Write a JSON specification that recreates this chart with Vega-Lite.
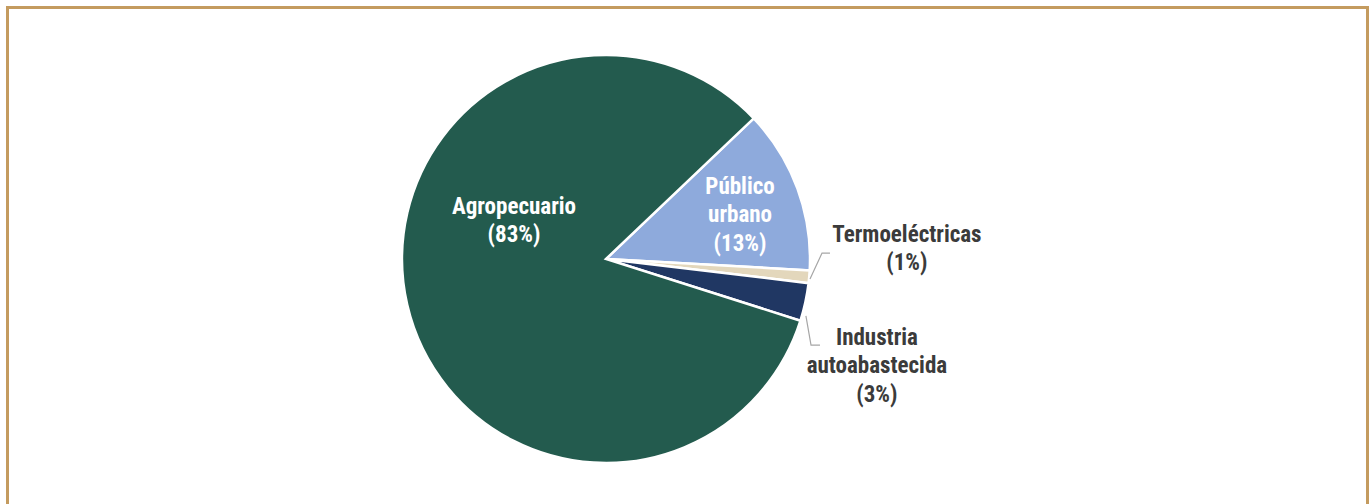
{
  "$schema": "https://vega.github.io/schema/vega-lite/v6.json",
  "width": 1370,
  "height": 504,
  "autosize": {"type": "fit", "contains": "padding"},
  "padding": {"left": 7.5, "top": 7.5, "right": 2.5, "bottom": -4},
  "background": "white",
  "config": {
    "view": {"stroke": "#c49b5f", "strokeWidth": 3},
    "font": "Liberation Sans Narrow"
  },
  "datasets": {
    "slices": [
      {"sector": "Público urbano", "value": 13, "ord": 1},
      {"sector": "Termoeléctricas", "value": 1, "ord": 2},
      {"sector": "Industria autoabastecida", "value": 3, "ord": 3},
      {"sector": "Agropecuario", "value": 83, "ord": 4}
    ],
    "labels": [
      {"label": "Agropecuario\n(83%)", "px": -45.1, "py": 25.5, "side": "in"},
      {"label": "Público\nurbano\n(13%)", "px": 65.7, "py": 35.3, "side": "in"},
      {"label": "Termoeléctricas\n(1%)", "px": 147.5, "py": 11.8, "side": "out"},
      {"label": "Industria\nautoabastecida\n(3%)", "px": 132.8, "py": -38.7, "side": "out"}
    ],
    "leaders": [
      {"grp": "t", "k": 1, "px": 100.0, "py": -9.8},
      {"grp": "t", "k": 2, "px": 105.9, "py": 2.9},
      {"grp": "t", "k": 3, "px": 109.8, "py": 2.9},
      {"grp": "i", "k": 1, "px": 98.0, "py": -27.9},
      {"grp": "i", "k": 2, "px": 100.5, "py": -42.2},
      {"grp": "i", "k": 3, "px": 104.9, "py": -42.2}
    ]
  },
  "layer": [
    {
      "data": {"name": "slices"},
      "mark": {"type": "arc", "radius": 204, "stroke": "white", "strokeWidth": 2.5},
      "encoding": {
        "x": {"datum": 0, "type": "quantitative", "scale": {"domain": [-293.4, 373.3], "nice": false, "zero": false}, "axis": null},
        "y": {"datum": 0, "type": "quantitative", "scale": {"domain": [-122.1, 123.3], "nice": false, "zero": false}, "axis": null},
        "theta": {"field": "value", "type": "quantitative", "stack": true, "scale": {"range": [0.81, 7.0932]}},
        "order": {"field": "ord", "type": "quantitative"},
        "color": {
          "field": "sector",
          "type": "nominal",
          "scale": {
            "domain": ["Agropecuario", "Público urbano", "Termoeléctricas", "Industria autoabastecida"],
            "range": ["#235b4e", "#8eaadc", "#e3d7bc", "#203763"]
          },
          "legend": null
        }
      }
    },
    {
      "data": {"name": "leaders"},
      "mark": {"type": "line", "color": "#a6a6a6", "strokeWidth": 1.2},
      "encoding": {
        "x": {"field": "px", "type": "quantitative", "scale": {"domain": [-293.4, 373.3], "nice": false, "zero": false}, "axis": null},
        "y": {"field": "py", "type": "quantitative", "scale": {"domain": [-122.1, 123.3], "nice": false, "zero": false}, "axis": null},
        "detail": {"field": "grp"},
        "order": {"field": "k", "type": "quantitative"}
      }
    },
    {
      "data": {"name": "labels"},
      "mark": {"type": "text", "lineBreak": "\n", "fontSize": 23, "fontWeight": "bold", "lineHeight": 28.5, "align": "center", "baseline": "middle", "font": "Liberation Sans Narrow, Arial Narrow, Roboto Condensed, DejaVu Sans Condensed, sans-serif"},
      "encoding": {
        "x": {"field": "px", "type": "quantitative", "scale": {"domain": [-293.4, 373.3], "nice": false, "zero": false}, "axis": null},
        "y": {"field": "py", "type": "quantitative", "scale": {"domain": [-122.1, 123.3], "nice": false, "zero": false}, "axis": null},
        "text": {"field": "label"},
        "color": {
          "field": "side",
          "type": "nominal",
          "scale": {"domain": ["in", "out"], "range": ["#ffffff", "#3b3b3b"]},
          "legend": null
        }
      }
    }
  ],
  "resolve": {"scale": {"color": "independent"}}
}
